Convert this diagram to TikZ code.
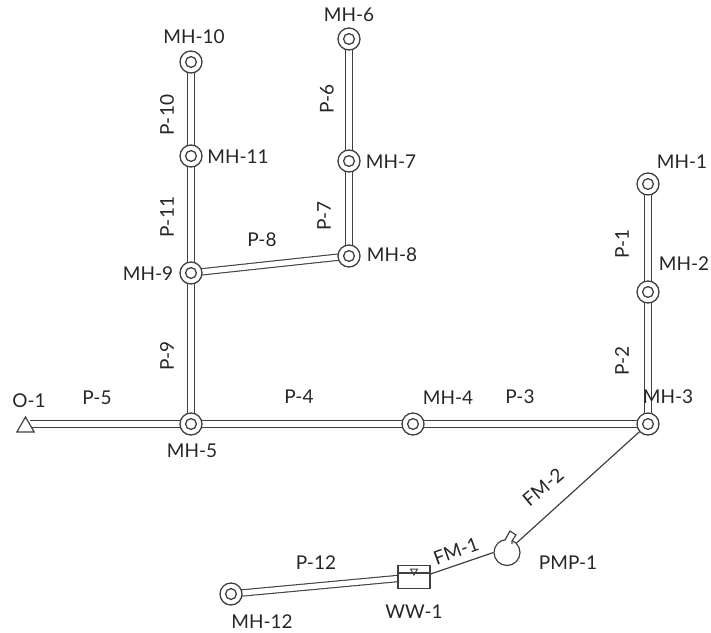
\documentclass[tikz,border=0pt]{standalone}
\usepackage{fontspec}
\setmainfont{Lato}
\usetikzlibrary{shapes.geometric}
\definecolor{linecol}{HTML}{404040}
\tikzset{
    pipe/.style={draw=linecol, double=white, line width=1.1pt, double distance=5.2pt},
    main/.style={draw=linecol, line width=1.2pt},
    manhole/.style={circle, draw=linecol, line width=1.3pt, fill=white, minimum size=22pt, inner sep=0pt,
        path picture={\draw[linecol, line width=1.3pt] (path picture bounding box.center) circle (5.4pt);}},
    lab/.style={text=black!85, font=\fontsize{19}{19}\selectfont, inner sep=0pt},
}
\begin{document}
\begin{tikzpicture}[x=1pt, y=-1pt]
    \useasboundingbox (0,0) rectangle (711,632);
    % structures
    \coordinate (mh1) at (648,184);
    \coordinate (mh2) at (648,292);
    \coordinate (mh3) at (648,424);
    \coordinate (mh4) at (413,424);
    \coordinate (mh5) at (191,424);
    \coordinate (mh6) at (349,39);
    \coordinate (mh7) at (349,161);
    \coordinate (mh8) at (349,256);
    \coordinate (mh9) at (191,273);
    \coordinate (mh10) at (191,62);
    \coordinate (mh11) at (191,156);
    \coordinate (mh12) at (231,594);
    \coordinate (wwc) at (414,577);
    \coordinate (pipeend) at (30,424);
    % pipes
    \draw[pipe] (mh1) -- (mh2);
    \draw[pipe] (mh2) -- (mh3);
    \draw[pipe] (mh3) -- (mh4);
    \draw[pipe] (mh4) -- (mh5);
    \draw[pipe] (mh5) -- (pipeend);
    \draw[pipe] (mh6) -- (mh7);
    \draw[pipe] (mh7) -- (mh8);
    \draw[pipe] (mh8) -- (mh9);
    \draw[pipe] (mh9) -- (mh5);
    \draw[pipe] (mh10) -- (mh11);
    \draw[pipe] (mh11) -- (mh9);
    \draw[pipe] (mh12) -- (wwc);
    % force mains
    \node[main, draw, circle, fill=white, minimum size=26pt, inner sep=0pt] (pmp1) at (507,552.5) {};
    \draw[main, fill=white] (505,540) -- (510,531) -- (516,535) -- (512,541) -- (512,544);
    \node[main, draw, rectangle, fill=white, minimum width=32pt, minimum height=23pt, inner sep=0pt] (ww1) at (wwc) {};
    \draw[main] (ww1.east) ++(0,-3) -- (pmp1.west);
    \draw[main] (pmp1.45) -- (mh3);
    \draw[main] (ww1.west) ++(0,-4) -- ++(32,0);
    \node[draw=linecol, line width=1pt, regular polygon, regular polygon sides=3, shape border rotate=180, minimum size=8pt, inner sep=0pt] (wwmark) at (414,571) {};
    \node[main, draw, regular polygon, regular polygon sides=3, fill=white, minimum size=20pt, inner sep=0pt] (o1) at (25.5,427) {};
    % manholes
    \node[manhole] (n1) at (mh1) {};
    \node[manhole] (n2) at (mh2) {};
    \node[manhole] (n3) at (mh3) {};
    \node[manhole] (n4) at (mh4) {};
    \node[manhole] (n5) at (mh5) {};
    \node[manhole] (n6) at (mh6) {};
    \node[manhole] (n7) at (mh7) {};
    \node[manhole] (n8) at (mh8) {};
    \node[manhole] (n9) at (mh9) {};
    \node[manhole] (n10) at (mh10) {};
    \node[manhole] (n11) at (mh11) {};
    \node[manhole] (n12) at (mh12) {};
    % labels
    \node[lab] (l1) at (682,162) {MH-1};
    \node[lab] (l2) at (684,264) {MH-2};
    \node[lab] (l3) at (668,397) {MH-3};
    \node[lab] (l4) at (448,398) {MH-4};
    \node[lab] (l5) at (192,451) {MH-5};
    \node[lab] (l6) at (349,15) {MH-6};
    \node[lab] (l7) at (391,162) {MH-7};
    \node[lab] (l8) at (392,255) {MH-8};
    \node[lab] (l9) at (148,274) {MH-9};
    \node[lab] (l10) at (194,37) {MH-10};
    \node[lab] (l11) at (238,157) {MH-11};
    \node[lab] (l12) at (262,622) {MH-12};
    \node[lab] (lww) at (414,612) {WW-1};
    \node[lab] (lpmp) at (568,563) {PMP-1};
    \node[lab] (lo) at (29,401) {O-1};
    \node[lab, rotate=90] (p1) at (622,244) {P-1};
    \node[lab, rotate=90] (p2) at (622,361) {P-2};
    \node[lab] (p3) at (520,397) {P-3};
    \node[lab] (p4) at (299,397) {P-4};
    \node[lab] (p5) at (97,398) {P-5};
    \node[lab, rotate=90] (p6) at (327,99) {P-6};
    \node[lab, rotate=90] (p7) at (324,216) {P-7};
    \node[lab] (p8) at (262,240) {P-8};
    \node[lab, rotate=90] (p9) at (167,356) {P-9};
    \node[lab, rotate=90] (p10) at (167,115) {P-10};
    \node[lab, rotate=90] (p11) at (167,217) {P-11};
    \node[lab] (p12) at (316,563) {P-12};
    \node[lab, rotate=20] (fm1) at (456,551) {FM-1};
    \node[lab, rotate=40] (fm2) at (543,487) {FM-2};
\end{tikzpicture}
\end{document}
